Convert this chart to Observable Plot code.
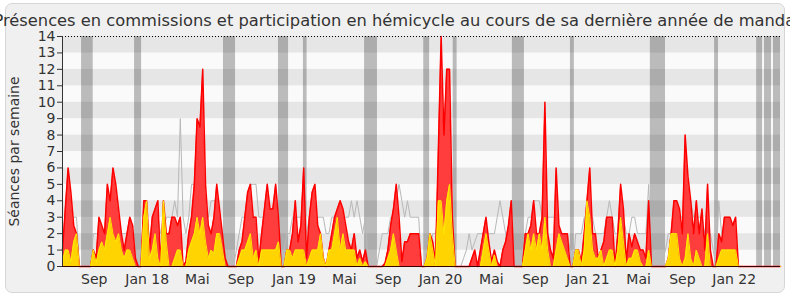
<!DOCTYPE html>
<html><head><meta charset="utf-8">
<script src="https://cdn.jsdelivr.net/npm/d3@7"></script>
<script src="https://cdn.jsdelivr.net/npm/@observablehq/plot@0.6"></script>
<style>
html,body{margin:0;padding:0;background:#fff;}
#wrap{position:relative;width:790px;height:300px;overflow:hidden;}
#panel{position:absolute;left:5px;top:3px;width:778px;height:288px;border:1px solid #d6d6d6;border-radius:7px;background:#f0f0f0;}
#chart{position:absolute;left:0;top:0;}
</style></head><body>
<div id="wrap"><div id="panel"></div><div id="chart"></div></div>
<script>
const title = "Présences en commissions et participation en hémicycle au cours de sa dernière année de mandat";
const yTitle = "Séances par semaine";

// weekly values (week index 0..256)
const red = [
1,3.5,6,4.5,2.5,2,0,0,0,0,
0,1,0.5,3,2.5,2,5,4,6,5,
3.5,2,1,2,3,2.5,0.5,0,0,4,
4,1,3,3.5,4,0,4,2,2,3,
3,2.5,3,0,0.3,2,3,5,9,8.5,
12,5,2.5,2,3,5,3.5,2,0.5,0,
0,0,0,1,1.5,3,4.5,5,3,3,
0.3,2,3.5,5,3.5,3.5,5,3,0,0,
1,1,2,4,1.5,2.5,6,0.5,3,4.5,
5,2.5,2,0.5,0,1,2,3,3.5,4,
3.5,2.5,1.5,1,2,0.5,1,0.3,1,0,
0,0,0,0,0,0.2,1,2.5,3.5,5,
3,0.3,1.5,1.5,2,2,2,2,0,0,
0.5,2,1.5,0.3,7,14,8,12,12,3,
0,0,0,0,0,0,0.5,1,0,1,
2,3,1.5,0.3,1,0.3,0,1,1.5,2.5,
4,0,0,0,0,2,2,2.5,4,2,
2,3,10,2,1,0.5,6,2.5,2,2,
2,0,0,1,1,0.3,2,4,6,2,
2,0.5,1,1.5,3,3,3,0,2,5,
3.5,0.3,2,1.2,2,1.5,1,1,0.5,4,
0,0,0,0,0,0,0.5,2,4,4,
3.5,2,8,5.5,4,2,4,2,3.5,1,
5,1,0,0,2,1.5,3,3,3,2.5,
3,0,0,0,0,0,0,0,0,0,
0,0,0,0,0,0,0];
const yellow = [
0.3,1,1,0.3,1.5,2,0,0,0,0,
0,1,0.2,1,1.5,1,2,3,2,1.5,
2,1,0.5,1,1,0.5,0,0,0,3,
4,0.5,1,2,0.5,0,4,1.5,0,0,
0.5,1,1,0,0,1,1.5,2,3,2,
3,1.5,0.5,1,0.8,2,2,1,0,0,
0,0,0,0.5,1,1,1.5,2,0.5,1,
0,1,1,1,1,1,1,1.5,0,0,
1,1,0.5,1,1,1,1,0,0.5,1,
1,1,2,0.5,0,1,1,2,3,1,
2,1,1,1,1,0,0.5,0,0.3,0,
0,0,0,0,0,0,0.5,1,2,1,
0,0,0,0,0,0,0,0,0,0,
0.5,2,1,0,4,4,2,4,5,2,
0,0,0,0,0,0,0,0,0,0,
1,2,1,0,0.7,0,0,0,0,0,
0,0,0,0,0,1,2,1,2,1,
2,1,3,1,0,0,1,2,1.5,1,
0.5,0,0,1,1,0,1,4,3,1,
0.5,0.5,1,0,0.5,1,1,0,1,3,
1.5,0,0.5,0.5,1,1,0.3,0,0,1,
0,0,0,0,0,0,0.5,2,2,2,
0.5,0,0.5,2,0.5,0,1,0.5,0,0,
2,0,0,0,0.5,1,1,1,1,1,
1,0,0,0,0,0,0,0,0,0,
0,0,0,0,0,0,0];
const grey = [
1,2,2,3,3,3,0,0,0,0,
0,2,2,2,2,2,3,3,3,3,
3,2,2,2,2,2,1,0,0,2,
2,2,2,3,3,2,2,3,3,3,
4,3,9,3,2,3,5,5,4,4,
4,3,3,4,4,4,3,2,1,0,
0,0,1,2,3,3,4,5,5,5,
3,3,3,3,3,2,2,2,0,1,
2,2,3,3,3,3,3,2,3,3,
3,3,3,3,2,2,3,3,3,3,
3,3,3,4,3,4,3,2,3,0,
0,0,0,1,2,2,2,3,3,4,
5,4,3,4,3,3,3,3,0,0,
0,1,2,2,3,3,4,6,5,3,
0,0,0,0.5,1,2,1,1.5,2,2,
2,2,2,2,2,3,4,3,2,1,
0,0,0,0,1,2,3,3,4,4,
4,3,3,3,3,3,3,2,2,2,
2,1,0,2,2,2,3,3,3,3,
2,2,2,2,3,4,3,2,2,2,
3,2,2,3,3,2,2,2,2,5,
0,0,0,0,0.5,1,2,2,3,3,
3,3,3,4,4,3,3,3,3,2,
2,2,1,0,4,2,2,3,2,2,
2,0,0,0,0,0,0,0,0,0,
0,0,0,0,0,0,0];

const tickWeeks  = [11.3, 30.2, 48.1, 63.6, 82.5, 100.5, 116.1, 134.8, 152.9, 168.6, 187.3, 205.4, 221, 239.5];
const tickLabels = ["Sep","Jan 18","Mai","Sep","Jan 19","Mai","Sep","Jan 20","Mai","Sep","Jan 21","Mai","Sep","Jan 22"];
const yTicks = [0,1,2,3,4,5,6,7,8,9,10,11,12,13,14];

// parliamentary breaks (week index start / end)
const breakStart = [6.8, 25.7, 57.4, 77, 85.9, 107.7, 128.8, 139.3, 160.4, 181.1, 209.6, 232.5, 247.5, 250.3, 253.5];
const breakEnd   = [10.95, 28.2, 61.7, 80.6, 87.2, 112.3, 130.9, 140.7, 164.7, 182.5, 215, 233.9, 249.6, 252.8, 256];

const weeks = red.map((v, i) => ({i, red: v, yellow: yellow[i], grey: grey[i]}));
const breaks = breakStart.map((s, k) => ({s, e: breakEnd[k]}));
const stripes = yTicks.slice(0, -1);

const chart = Plot.plot({
  width: 790, height: 300,
  marginLeft: 62, marginRight: 10, marginTop: 36, marginBottom: 34,
  style: {background: "transparent", fontFamily: "DejaVu Sans", fontSize: "14px", color: "#333", overflow: "visible"},
  x: {domain: [0, 256]},
  y: {domain: [0, 14]},
  marks: [
    Plot.rect(stripes, {y1: d => d, y2: d => d + 1, fill: d => d % 2 ? "#e6e6e6" : "#fafafa"}),
    Plot.rect(breaks, {x1: "s", x2: "e", fill: "#000", fillOpacity: 0.25}),
    Plot.lineY(weeks, {x: "i", y: "grey", stroke: "#b8b8b8", strokeWidth: 1}),
    Plot.areaY(weeks, {x: "i", y: "red", fill: "#ff3d3d"}),
    Plot.lineY(weeks, {x: "i", y: "red", stroke: "#ff0000", strokeWidth: 1.5}),
    Plot.areaY(weeks, {x: "i", y: "yellow", fill: "#ffd400"}),
    Plot.lineY(weeks, {x: "i", y: "yellow", stroke: "#ffe800", strokeWidth: 1}),
    Plot.ruleY([14], {stroke: "#000", strokeDasharray: "1,2"}),
    Plot.ruleY([0], {stroke: "#3a0000"}),
    Plot.ruleX([0], {stroke: "#333"}),
    Plot.axisY({ticks: yTicks, tickSize: 5, tickPadding: 2, label: null, fontSize: 14, stroke: "#333"}),
    Plot.axisX({ticks: tickWeeks, tickFormat: d => tickLabels[tickWeeks.indexOf(d)], tickSize: 0, tickPadding: 8, label: null, fontSize: 14}),
    Plot.text([yTitle], {frameAnchor: "left", textAnchor: "middle", rotate: -90, dx: -48, fontSize: 14, fill: "#333"}),
    Plot.text([title], {frameAnchor: "top", textAnchor: "middle", dx: -24, dy: -16, fontSize: 16.3, fill: "#333", lineAnchor: "middle"})
  ]
});
document.getElementById("chart").appendChild(chart);
</script>
</body></html>
